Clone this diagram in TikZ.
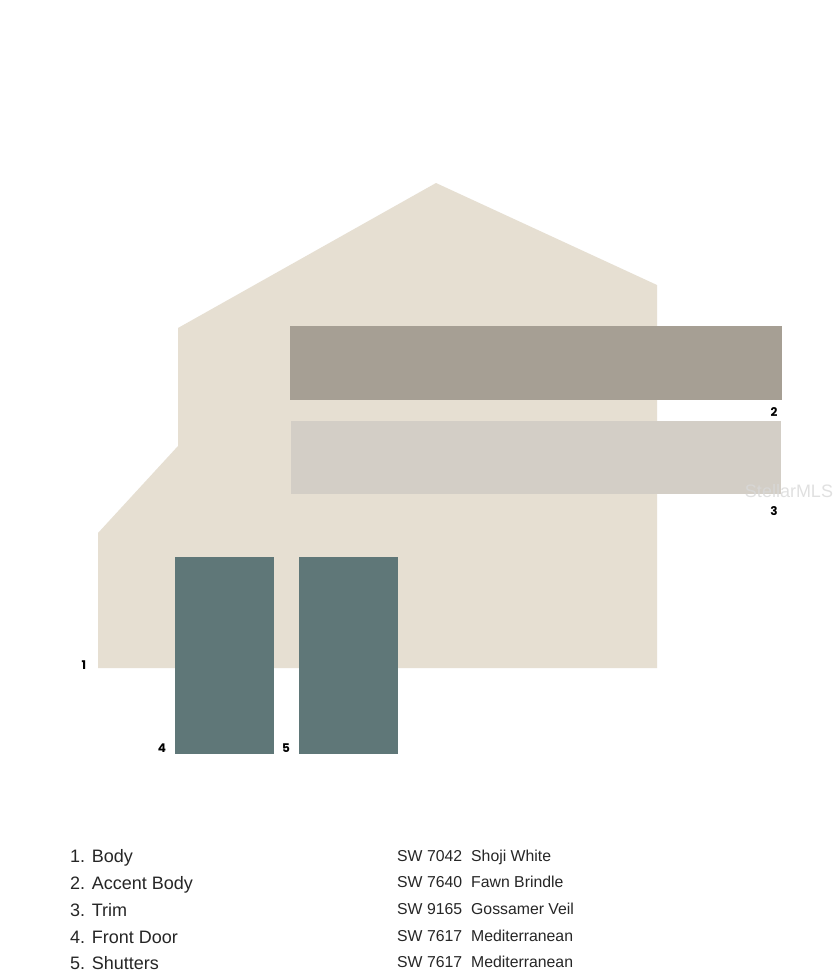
\documentclass[tikz,border=0pt]{standalone}
\usepackage{fontspec}
\setmainfont{Liberation Sans}
\newfontfamily\numfont{Poppins}
\usetikzlibrary{positioning}

\definecolor{shoji}{HTML}{E6DFD2}
\definecolor{fawn}{HTML}{A69F94}
\definecolor{veil}{HTML}{D3CEC6}
\definecolor{medit}{HTML}{5F7778}

\begin{document}
\begin{tikzpicture}[x=1pt,y=-1pt,
                    swatch/.style={inner sep=0pt,outer sep=0pt,anchor=north west},
                    num/.style={font=\numfont\bfseries\fontsize{12}{12}\selectfont,inner sep=0pt,text=black},
                    part/.style={font=\fontsize{18}{18}\selectfont,anchor=base west,inner sep=0pt,text=black!85},
                    code/.style={font=\fontsize{15.8}{15.8}\selectfont,anchor=base west,inner sep=0pt,text=black!85}]
  \useasboundingbox[fill=white] (0,0) rectangle (840,980);
  % house body
  \fill[shoji] (98,668) -- (98,533) -- (178,446) -- (178,328) -- (436,183)
               -- (657,285) -- (657,668) -- cycle;
  \node[swatch,fill=fawn,minimum width=492pt,minimum height=74pt] (accent) at (290,326) {};
  \node[swatch,fill=veil,minimum width=490pt,minimum height=73pt] (trim) at (291,421) {};
  \node[swatch,fill=medit,minimum width=99pt,minimum height=197pt] (door) at (175,557) {};
  \node[swatch,fill=medit,minimum width=99pt,minimum height=197pt] (shutter) at (299,557) {};
  % numbers
  \node[num] (n1) at (84,665) {1};
  \node[num] (n2) at (774,412) {2};
  \node[num] (n3) at (774,511) {3};
  \node[num] (n4) at (162,748) {4};
  \node[num] (n5) at (286,748) {5};
  \node[font=\fontsize{18}{18}\selectfont,text=gray!30,opacity=0.8] (mark) at (789,491) {StellarMLS};
  % legend
  \node[part] (p1) at (70,862) {1. Body};
  \node[part] (p2) at (70,889) {2. Accent Body};
  \node[part] (p3) at (70,916) {3. Trim};
  \node[part] (p4) at (70,943) {4. Front Door};
  \node[part] (p5) at (70,969) {5. Shutters};
  \node[code] (c1) at (397,861) {SW 7042};
  \node[code] (c2) at (397,887) {SW 7640};
  \node[code] (c3) at (397,914) {SW 9165};
  \node[code] (c4) at (397,941) {SW 7617};
  \node[code] (c5) at (397,967) {SW 7617};
  \node[code] (s1) at (471,861) {Shoji White};
  \node[code] (s2) at (471,887) {Fawn Brindle};
  \node[code] (s3) at (471,914) {Gossamer Veil};
  \node[code] (s4) at (471,941) {Mediterranean};
  \node[code] (s5) at (471,967) {Mediterranean};
\end{tikzpicture}
\end{document}
